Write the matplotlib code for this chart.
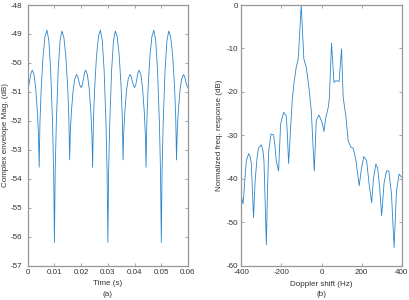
import matplotlib
matplotlib.use("Agg")
import matplotlib.pyplot as plt

plt.rcParams['font.family'] = ['Liberation Sans', 'DejaVu Sans']
plt.rcParams['axes.unicode_minus'] = False

# ---------------- data: panel (a) ----------------
time_s = [
    0.00000, 0.00043, 0.00085, 0.00128, 0.00170, 0.00235, 0.00300, 0.00365, 0.00404, 0.00430,
    0.00459, 0.00503, 0.00575, 0.00648, 0.00720, 0.00790, 0.00860, 0.00930, 0.00972, 0.01000,
    0.01028, 0.01070, 0.01140, 0.01210, 0.01280, 0.01353, 0.01425, 0.01498, 0.01541, 0.01570,
    0.01596, 0.01635, 0.01700, 0.01765, 0.01830, 0.01873, 0.01915, 0.01958,
    0.02000, 0.02043, 0.02085, 0.02128, 0.02170, 0.02235, 0.02300, 0.02365, 0.02404, 0.02430,
    0.02459, 0.02503, 0.02575, 0.02648, 0.02720, 0.02790, 0.02860, 0.02930, 0.02972, 0.03000,
    0.03028, 0.03070, 0.03140, 0.03210, 0.03280, 0.03353, 0.03425, 0.03498, 0.03541, 0.03570,
    0.03596, 0.03635, 0.03700, 0.03765, 0.03830, 0.03873, 0.03915, 0.03958,
    0.04000, 0.04043, 0.04085, 0.04128, 0.04170, 0.04235, 0.04300, 0.04365, 0.04404, 0.04430,
    0.04459, 0.04503, 0.04575, 0.04648, 0.04720, 0.04790, 0.04860, 0.04930, 0.04972, 0.05000,
    0.05028, 0.05070, 0.05140, 0.05210, 0.05280, 0.05353, 0.05425, 0.05498, 0.05541, 0.05570,
    0.05596, 0.05635, 0.05700, 0.05765, 0.05830, 0.05873, 0.05915, 0.05958, 0.06000,
]
envelope_db = [
    -50.85, -50.76, -50.55, -50.34, -50.25, -50.40, -50.88, -51.72, -52.50, -53.60,
    -52.05, -50.94, -49.76, -49.09, -48.87, -49.21, -50.25, -52.08, -53.80, -56.20,
    -53.81, -52.10, -50.27, -49.24, -48.90, -49.11, -49.74, -50.85, -51.89, -53.35,
    -52.38, -51.69, -50.95, -50.54, -50.40, -50.47, -50.63, -50.78,
    -50.85, -50.76, -50.55, -50.34, -50.25, -50.40, -50.88, -51.72, -52.50, -53.60,
    -52.05, -50.94, -49.76, -49.09, -48.87, -49.21, -50.25, -52.08, -53.80, -56.20,
    -53.81, -52.10, -50.27, -49.24, -48.90, -49.11, -49.74, -50.85, -51.89, -53.35,
    -52.38, -51.69, -50.95, -50.54, -50.40, -50.47, -50.63, -50.78,
    -50.85, -50.76, -50.55, -50.34, -50.25, -50.40, -50.88, -51.72, -52.50, -53.60,
    -52.05, -50.94, -49.76, -49.09, -48.87, -49.21, -50.25, -52.08, -53.80, -56.20,
    -53.81, -52.10, -50.27, -49.24, -48.90, -49.11, -49.74, -50.85, -51.89, -53.35,
    -52.38, -51.69, -50.95, -50.54, -50.40, -50.47, -50.63, -50.78, -50.85,
]

# ---------------- data: panel (b) ----------------
doppler_hz = [
    -400, -391, -382, -375, -363, -355, -350, -339, -331, -322,
    -314, -300, -292, -287, -275, -270, -264, -252, -239, -233,
    -226, -214, -204, -189, -176, -171, -164, -154, -146, -138,
    -126, -116, -101, -88, -76, -63, -51, -36, -26, -13,
    -1, 5, 12, 22, 34, 39, 50, 62, 72, 88,
    100, 108, 122, 133, 147, 158, 172, 188, 200, 211,
    225, 237, 250, 259, 271, 280, 290, 300, 312, 324,
    336, 349, 362, 374, 387, 400,
]
response_db = [
    -43.9, -45.8, -40.0, -35.8, -34.2, -35.0, -36.5, -48.9, -40.5, -35.5,
    -32.9, -32.2, -33.5, -35.8, -55.2, -44.0, -33.9, -29.7, -29.9, -32.0,
    -35.8, -38.2, -27.4, -24.7, -25.5, -29.0, -36.5, -28.2, -22.0, -18.2,
    -14.3, -12.4, 0.0, -12.4, -14.3, -18.9, -24.3, -38.2, -26.6, -25.3,
    -26.6, -27.4, -29.1, -25.8, -23.5, -21.5, -8.8, -17.8, -17.4, -17.6,
    -10.1, -21.2, -25.8, -31.2, -32.8, -32.9, -35.8, -41.6, -37.4, -34.9,
    -35.8, -41.0, -45.5, -40.0, -36.6, -37.5, -42.0, -48.5, -41.0, -38.2,
    -38.2, -43.5, -55.8, -42.8, -38.9, -39.7,
]

# ---------------- tick labels ----------------
a_xticks = [0, 0.01, 0.02, 0.03, 0.04, 0.05, 0.06]
a_xlabels = ['0', '0.01', '0.02', '0.03', '0.04', '0.05', '0.06']
a_yticks = [-57, -56, -55, -54, -53, -52, -51, -50, -49, -48]
b_xticks = [-400, -200, 0, 200, 400]
b_yticks = [-60, -50, -40, -30, -20, -10, 0]

W, H = 409, 300
fig = plt.figure(figsize=(W / 100, H / 100), dpi=100)

line_color = '#2a86cc'
spine_color = '#969696'
text_color = '#333333'
fs = 5.8

def style(ax, ypad):
    for s in ax.spines.values():
        s.set_color(spine_color)
        s.set_linewidth(0.9)
    ax.tick_params(direction='in', length=2.5, width=0.6, color=spine_color,
                   top=True, right=True, labelsize=fs, labelcolor=text_color)
    ax.tick_params(axis='x', pad=2.5)
    ax.tick_params(axis='y', pad=ypad)

top, bot = 5.0, 265.7
ax1 = fig.add_axes([27.7 / W, 1 - bot / H, (188.0 - 27.7) / W, (bot - top) / H])
ax1.plot(time_s, envelope_db, color=line_color, lw=0.6)
ax1.set_xlim(0, 0.06)
ax1.set_ylim(-57, -48)
ax1.set_xticks(a_xticks)
ax1.set_xticklabels(a_xlabels)
ax1.set_yticks(a_yticks)
ax1.set_yticklabels([str(v) for v in a_yticks])
style(ax1, 4.0)

ax2 = fig.add_axes([241.3 / W, 1 - bot / H, (401.7 - 241.3) / W, (bot - top) / H])
ax2.plot(doppler_hz, response_db, color=line_color, lw=0.6)
ax2.set_xlim(-400, 400)
ax2.set_ylim(-60, 0)
ax2.set_xticks(b_xticks)
ax2.set_xticklabels([str(v) for v in b_xticks])
ax2.set_yticks(b_yticks)
ax2.set_yticklabels([str(v) for v in b_yticks])
style(ax2, 2.0)

fig.text(5.5 / W, 1 - 135.4 / H, 'Complex envelope Mag. (dB)', rotation=90,
         ha='center', va='center', fontsize=fs, color=text_color)
fig.text(219.5 / W, 1 - 135.4 / H, 'Normalized freq. response (dB)', rotation=90,
         ha='center', va='center', fontsize=fs, color=text_color)
fig.text(107.8 / W, 1 - 283.3 / H, 'Time (s)', ha='center', va='center',
         fontsize=fs, color=text_color)
fig.text(107.8 / W, 1 - 294.3 / H, '(a)', ha='center', va='center',
         fontsize=fs, color=text_color)
fig.text(321.5 / W, 1 - 284.0 / H, 'Doppler shift (Hz)', ha='center', va='center',
         fontsize=fs, color=text_color)
fig.text(321.5 / W, 1 - 294.3 / H, '(b)', ha='center', va='center',
         fontsize=fs, color=text_color)

fig.savefig('out.png', dpi=100)
